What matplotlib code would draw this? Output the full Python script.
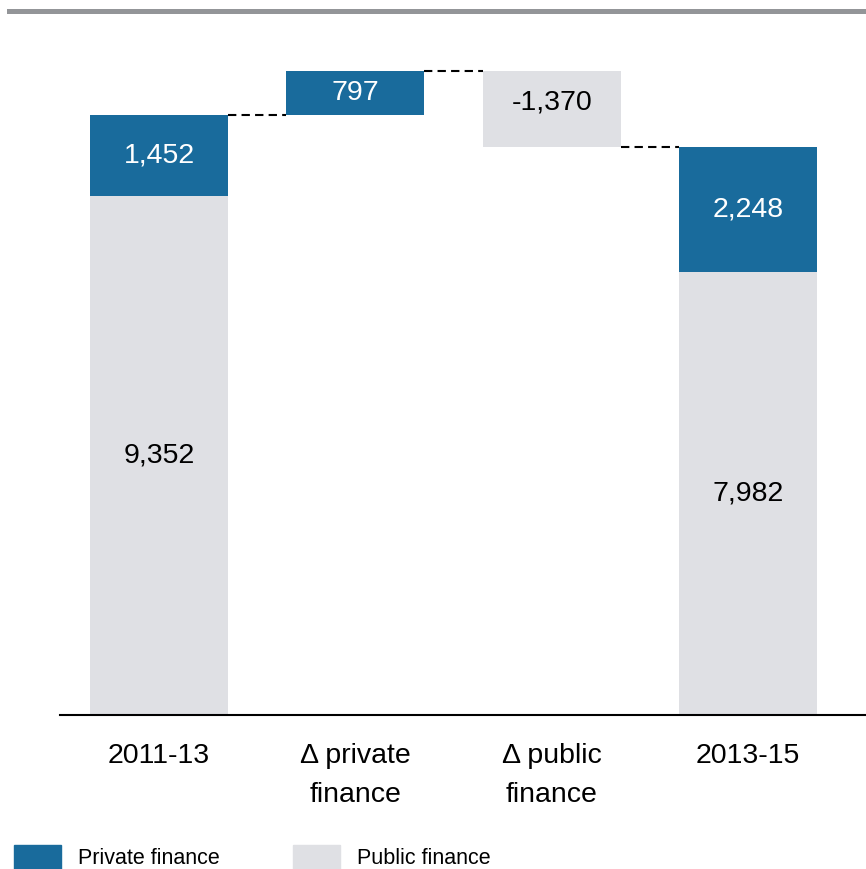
import numpy as np
import matplotlib
matplotlib.use("Agg")
import matplotlib.pyplot as plt
from matplotlib.patches import Patch
from matplotlib.lines import Line2D

plt.rcParams['font.family'] = ['Liberation Sans', 'DejaVu Sans']

'''
Data
'''
categories = ['2011-13', 'Δ private\nfinance', 'Δ public\nfinance', '2013-15']
public_start, private_start = 9352, 1452
delta_private, delta_public = 797, -1370
public_end, private_end = 7982, 2248

blue = '#196b9c'
grey = '#dfe0e4'

'''
Figure and axes
'''
fig = plt.figure(figsize=(8.66, 8.69), dpi=100)
ax = fig.add_axes([60/866, (869-715)/869, 806/866, (715-20)/869])

x = np.arange(len(categories))
w = 0.703

# stacked start / end bars
ax.bar(x[0], public_start, w, color=grey)
ax.bar(x[0], private_start, w, bottom=public_start, color=blue)
ax.bar(x[3], public_end, w, color=grey)
ax.bar(x[3], private_end, w, bottom=public_end, color=blue)

# floating change bars
start_total = public_start + private_start
after_private = start_total + delta_private
after_public = after_private + delta_public
ax.bar(x[1], delta_private, w, bottom=start_total, color=blue)
ax.bar(x[2], delta_public, w, bottom=after_private, color=grey)

# labels inside the bars
def label(xi, y, v, col):
    ax.text(xi, y, f'{v:,}', ha='center', va='center', fontsize=20.5, color=col)

label(x[0], public_start/2, public_start, 'black')
label(x[0], public_start + private_start/2, private_start, 'white')
label(x[1], start_total + delta_private/2, delta_private, 'white')
label(x[2], after_private + delta_public/2 + 120, delta_public, 'black')
label(x[3], public_end/2, public_end, 'black')
label(x[3], public_end + private_end/2, private_end, 'white')

# dashed connectors
dash = dict(color='black', lw=1.5, linestyle=(0, (4, 2.5)))
ax.plot([x[0] + w/2, x[1] - w/2], [start_total]*2, **dash)
ax.plot([x[1] + w/2, x[2] - w/2], [after_private]*2, **dash)
ax.plot([x[2] + w/2, x[3] - w/2], [after_public]*2, **dash)

ax.set_xlim(-0.504, 3.60)
ax.set_ylim(0, 12516)
ax.set_xticks(x)
ax.set_xticklabels(categories, fontsize=20.5, linespacing=1.65)
ax.tick_params(axis='x', length=0, pad=20)
ax.set_yticks([])
for s in ['top', 'left', 'right']:
    ax.spines[s].set_visible(False)
ax.spines['bottom'].set_linewidth(1.5)

# grey rule at the top
fig.add_artist(Line2D([9/866, 1], [(869-10.8)/869]*2, color='#939598', lw=3.6))

# legend
handles = [Patch(color=blue, label='Private finance'),
           Patch(color=grey, label='Public finance')]
fig.legend(handles=handles, loc='lower left', bbox_to_anchor=(14/866, 0),
           ncol=2, frameon=False, fontsize=15.5, handlelength=2.18,
           handleheight=1.3, handletextpad=0.79, columnspacing=3.4,
           borderpad=0, borderaxespad=0)

plt.savefig('out.png', dpi=100)
